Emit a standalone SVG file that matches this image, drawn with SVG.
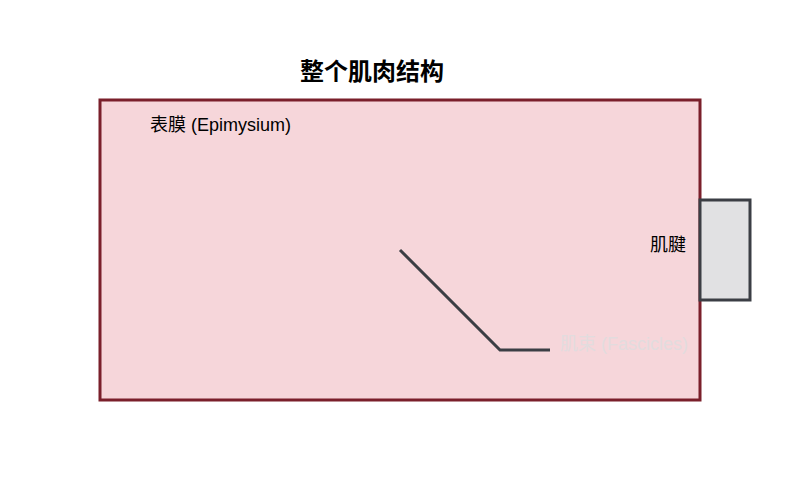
<svg xmlns="http://www.w3.org/2000/svg" width="800" height="500" viewBox="0 0 800 500">
<style>
.t{font-family:"Liberation Sans","Noto Sans CJK SC",sans-serif;}
.title{font-size:24px;font-weight:bold;fill:#000;}
.lbl{font-size:18px;fill:#000;}
.faint{font-size:18px;fill:#e2dcde;}
</style>
<rect width="800" height="500" fill="#ffffff"/>
<text class="t title" x="372" y="80" text-anchor="middle">整个肌肉结构</text>
<g id="muscle">
<rect x="100" y="100" width="600" height="300" fill="#f6d6da" stroke="#7a1f2b" stroke-width="3"/>
<text class="t lbl" x="150" y="131">表膜 (Epimysium)</text>
</g>
<g id="tendon">
<rect x="700" y="200" width="50" height="100" fill="#e1e1e3" stroke="#3b3e44" stroke-width="3"/>
<text class="t lbl" x="686" y="251" text-anchor="end">肌腱</text>
</g>
<g id="connectors">
<polyline points="400,250 500,350 550,350" fill="none" stroke="#3b3e44" stroke-width="3"/>
</g>
<g id="fascicles">
<text class="t faint" x="560" y="350">肌束 (Fascicles)</text>
</g>
</svg>
